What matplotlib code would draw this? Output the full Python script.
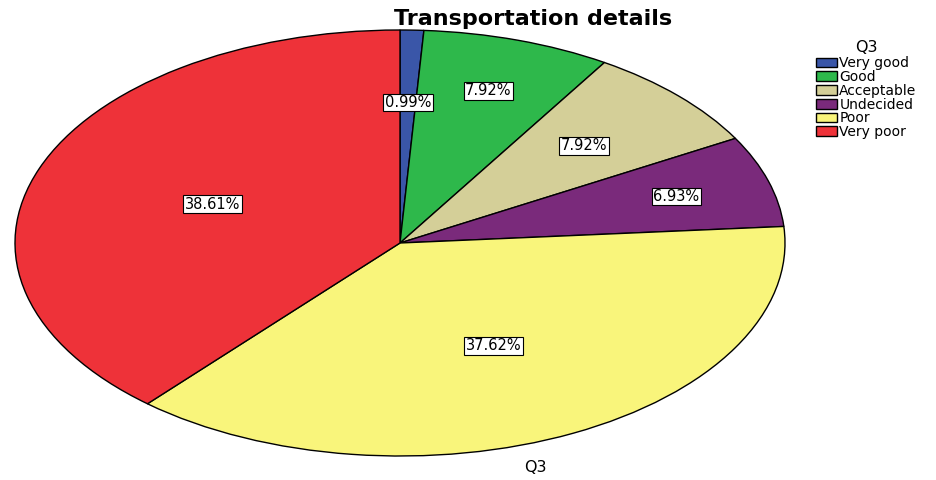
import matplotlib
matplotlib.use("Agg")
import matplotlib.pyplot as plt
import numpy as np

categories = ["Very good", "Good", "Acceptable", "Undecided", "Poor", "Very poor"]
percent = [0.99, 7.92, 7.92, 6.93, 37.62, 38.61]
colors = ["#3A56A8", "#2EB84B", "#D4CF98", "#7A2A7B", "#F9F57B", "#EE3239"]

# radial placement of each percentage box (fraction of the radius)
label_radius = [0.66, 0.75, 0.66, 0.75, 0.54, 0.52]

plt.rcParams["font.family"] = ["DejaVu Sans"]

fig = plt.figure(figsize=(9.37, 4.80), dpi=100)
ax = fig.add_axes([15 / 937, 24 / 480, 770 / 937, 426 / 480])

wedges, _ = ax.pie(percent, colors=colors, startangle=90, counterclock=False,
                   wedgeprops=dict(edgecolor="black", linewidth=1.0))
ax.set_aspect("auto")
ax.set_xlim(-1, 1)
ax.set_ylim(-1, 1)

start = 90.0
for p, r in zip(percent, label_radius):
    mid = np.deg2rad(start - p * 3.6 / 2)
    start -= p * 3.6
    ax.text(r * np.cos(mid), r * np.sin(mid), f"{p:.2f}%", ha="center", va="center",
            fontsize=10.5,
            bbox=dict(boxstyle="square,pad=0.1", facecolor="white", edgecolor="black", linewidth=0.8))

fig.text(533 / 937, 1 - 19 / 480, "Transportation details", ha="center", va="center",
         fontsize=16, fontweight="bold")
fig.text(535 / 937, 1 - 468 / 480, "Q3", ha="center", va="center", fontsize=11.5)

leg = fig.legend(wedges, categories, title="Q3", loc="upper left",
                 bbox_to_anchor=(806 / 937, 1 - 32 / 480), frameon=False,
                 fontsize=10, title_fontsize=11.5, handlelength=1.5, handleheight=0.7,
                 labelspacing=-0.02, handletextpad=0.2, borderpad=0.2)
leg.get_title().set_position((0, 2))

fig.savefig("out.png", dpi=100)
